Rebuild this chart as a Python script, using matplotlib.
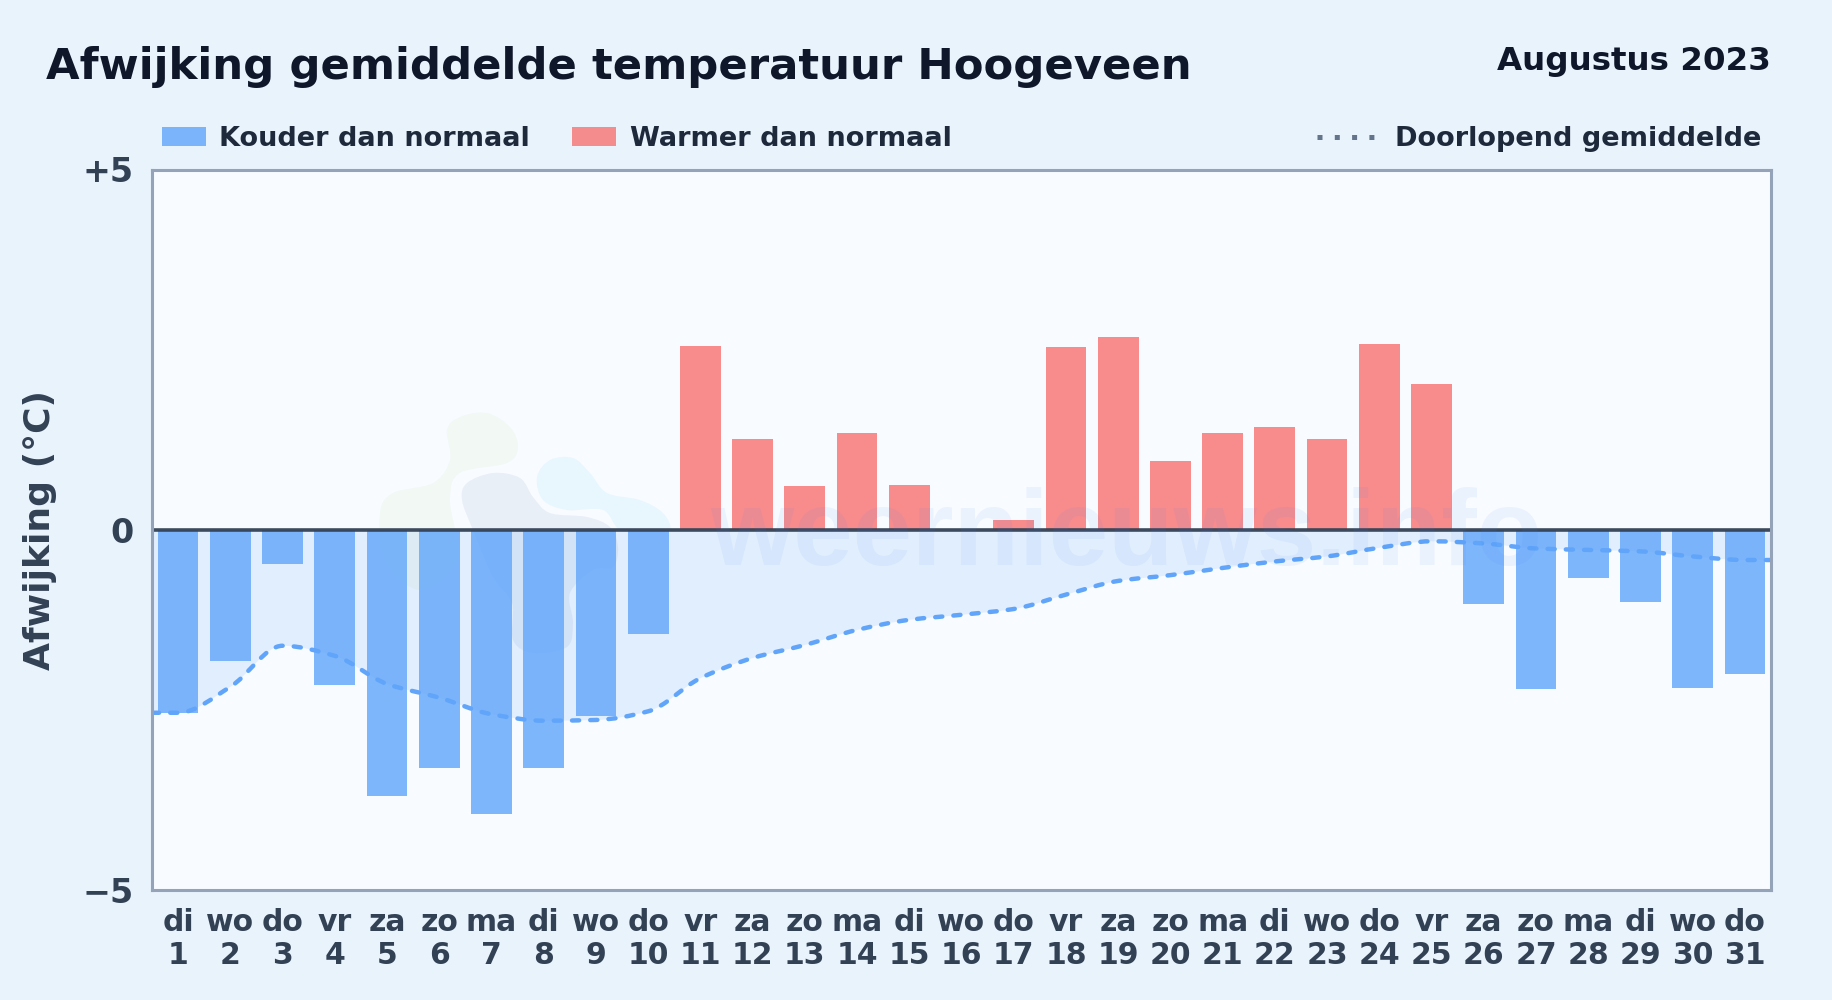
import numpy as np
import matplotlib
matplotlib.use("Agg")
import matplotlib.pyplot as plt
from matplotlib.lines import Line2D
from matplotlib.patches import PathPatch, Rectangle
from matplotlib.path import Path
from matplotlib.transforms import Affine2D

# =======================================================
# DATA
# =======================================================

WEEKDAYS = ["di", "wo", "do", "vr", "za", "zo", "ma", "di", "wo", "do", "vr",
            "za", "zo", "ma", "di", "wo", "do", "vr", "za", "zo", "ma", "di",
            "wo", "do", "vr", "za", "zo", "ma", "di", "wo", "do"]
DAYS = list(range(1, 32))
DEVIATION = [-2.54, -1.82, -0.48, -2.16, -3.70, -3.30, -3.95, -3.31, -2.58, -1.45,
             2.55, 1.26, 0.61, 1.34, 0.62, 0.0, 0.14, 2.54, 2.68, 0.96,
             1.34, 1.43, 1.26, 2.58, 2.02, -1.03, -2.21, -0.67, -1.00, -2.20, -2.00]
RUNNING_MEAN = [-2.54, -2.18, -1.61, -1.75, -2.14, -2.33, -2.56, -2.65, -2.64, -2.52,
                -2.06, -1.78, -1.60, -1.39, -1.25, -1.18, -1.10, -0.90, -0.71, -0.63,
                -0.53, -0.44, -0.37, -0.25, -0.16, -0.19, -0.26, -0.28, -0.30, -0.37, -0.42]
YTICKS = [-5, 0, 5]
YTICK_LABELS = ["\u22125", "0", "+5"]

# =======================================================
# CONFIG
# =======================================================

W, H = 1832, 1000
BG = "#e8f3fc"
PANEL = "#f8fbff"
BLUE = "#60a5fa"
RED = "#f87171"

# watermark blobs, in picture pixels
BLOB_GREEN = [(380, 513), (393, 493), (433, 483), (450, 460), (447, 430), (460, 417),
              (487, 413), (510, 427), (518, 447), (507, 463), (460, 473), (450, 500),
              (457, 560), (420, 590), (385, 560)]
BLOB_GRAY = [(462, 500), (467, 483), (493, 473), (520, 478), (533, 497), (550, 513),
             (587, 517), (610, 527), (618, 547), (613, 567), (593, 570), (570, 593),
             (573, 623), (567, 647), (533, 653), (513, 640), (512, 603), (493, 577), (473, 530)]
BLOB_SKY = [(537, 477), (550, 460), (573, 458), (590, 473), (607, 493), (640, 500),
            (663, 513), (670, 530), (650, 533), (620, 530), (603, 510), (567, 510), (543, 500)]


def fx(x):
    return x / W


def fy(y):
    return 1 - y / H


# =======================================================
# SMOOTH CURVES
# =======================================================

def monotone_path(x, y):
    """Bezier path through the points, with monotone tangents."""
    x = np.asarray(x, dtype=float)
    y = np.asarray(y, dtype=float)
    h = np.diff(x)
    s = np.diff(y) / h
    t = np.zeros(len(x))
    for i in range(1, len(x) - 1):
        if s[i - 1] * s[i] > 0:
            t[i] = 2 * s[i - 1] * s[i] / (s[i - 1] + s[i])
    t[0] = s[0]
    t[-1] = s[-1]

    verts = [(x[0], y[0])]
    codes = [Path.MOVETO]
    for i in range(len(h)):
        verts.append((x[i] + h[i] / 3, y[i] + t[i] * h[i] / 3))
        verts.append((x[i + 1] - h[i] / 3, y[i + 1] - t[i + 1] * h[i] / 3))
        verts.append((x[i + 1], y[i + 1]))
        codes += [Path.CURVE4] * 3
    return verts, codes


def blob_path(points):
    """Closed Catmull-Rom loop, used for the faint logo shapes."""
    pts = np.array(points, dtype=float)
    n = len(pts)
    verts = [tuple(pts[0])]
    codes = [Path.MOVETO]
    for i in range(n):
        p0, p1, p2, p3 = pts[i - 1], pts[i], pts[(i + 1) % n], pts[(i + 2) % n]
        verts += [tuple(p1 + (p2 - p0) / 6), tuple(p2 - (p3 - p1) / 6), tuple(p2)]
        codes += [Path.CURVE4] * 3
    return Path(verts, codes)


# =======================================================
# DRAWING
# =======================================================

def draw_watermark(ax, fig):
    to_fig = Affine2D().scale(1 / W, -1 / H).translate(0, 1) + fig.transFigure
    for pts, color, alpha in ((BLOB_GREEN, "#a3d65c", 0.07), (BLOB_GRAY, "#4f7ab0", 0.09), (BLOB_SKY, "#38bdf8", 0.08)):
        ax.add_patch(PathPatch(blob_path(pts), transform=to_fig, facecolor=color,
                               edgecolor="none", alpha=alpha, zorder=1))
    fig.text(fx(1126), fy(565), "weernieuws.info", ha="center", va="baseline",
             fontsize=77, fontweight="bold", family="Liberation Sans",
             color="#3b82f6", alpha=0.07, zorder=6)


def draw_legend(fig):
    for x0, x1, color in ((162, 206, BLUE), (572, 616, RED)):
        fig.add_artist(Rectangle((fx(x0), fy(146)), (x1 - x0) / W, 19 / H, transform=fig.transFigure,
                                 facecolor=color, edgecolor="none", alpha=0.8))
    style = dict(fontsize=19.5, fontweight="bold", color="#1e293b", va="baseline")
    fig.text(fx(219), fy(146), "Kouder dan normaal", **style)
    fig.text(fx(630), fy(146), "Warmer dan normaal", **style)
    fig.text(fx(1395), fy(146), "Doorlopend gemiddelde", **style)
    fig.add_artist(Line2D([fx(1317), fx(1375)], [fy(137), fy(137)], transform=fig.transFigure,
                          color="#64748b", lw=3.6, linestyle=(0, (1, 2.46)),
                          dash_capstyle="butt"))


def main():
    fig = plt.figure(figsize=(W / 100, H / 100), dpi=100, facecolor=BG)
    ax = fig.add_axes([fx(152), fy(890), (1771 - 152) / W, (890 - 169.5) / H], facecolor=PANEL)

    ax.set_xlim(0.5, 31.5)
    ax.set_ylim(-5, 5)

    draw_watermark(ax, fig)

    # running mean runs on flat to both panel edges
    line_x = [DAYS[0] - 0.5] + DAYS + [DAYS[-1] + 0.5]
    line_y = [RUNNING_MEAN[0]] + RUNNING_MEAN + [RUNNING_MEAN[-1]]
    verts, codes = monotone_path(line_x, line_y)

    fill_verts = verts + [(line_x[-1], 0), (line_x[0], 0), verts[0]]
    fill_codes = codes + [Path.LINETO, Path.LINETO, Path.CLOSEPOLY]
    ax.add_patch(PathPatch(Path(fill_verts, fill_codes), facecolor=BLUE, edgecolor="none",
                           alpha=0.15, zorder=2))

    colors = [BLUE if v < 0 else RED for v in DEVIATION]
    ax.bar(DAYS, DEVIATION, width=0.78, color=colors, alpha=0.8, linewidth=0, zorder=3)

    ax.add_patch(PathPatch(Path(verts, codes), facecolor="none", edgecolor=BLUE, lw=3.2,
                           linestyle=(0, (1.6, 2.5)), capstyle="round", zorder=4))
    ax.axhline(0, color="#334155", lw=2.6, alpha=0.95, zorder=5)

    for spine in ax.spines.values():
        spine.set_color("#94a3b8")
        spine.set_linewidth(2.2)
        spine.set_zorder(7)

    ax.set_xticks(DAYS)
    ax.set_xticklabels([f"{d}\n{n}" for d, n in zip(WEEKDAYS, DAYS)], linespacing=1.21)
    ax.set_yticks(YTICKS)
    ax.set_yticklabels(YTICK_LABELS)
    ax.tick_params(axis="x", length=0, pad=12.7, labelsize=21.5, labelcolor="#334155")
    ax.tick_params(axis="y", length=0, pad=13, labelsize=24, labelcolor="#334155")
    for lab in ax.get_xticklabels() + ax.get_yticklabels():
        lab.set_fontweight("bold")

    fig.text(fx(40), fy(530), "Afwijking (\u00b0C)", rotation=90, ha="center", va="center",
             fontsize=26, fontweight="bold", color="#334155")
    fig.text(fx(46), fy(79), "Afwijking gemiddelde temperatuur Hoogeveen", ha="left", va="baseline",
             fontsize=31.2, fontweight="bold", color="#0f172a")
    fig.text(fx(1771), fy(70), "Augustus 2023", ha="right", va="baseline",
             fontsize=23.4, fontweight="bold", color="#0f172a")

    draw_legend(fig)

    fig.savefig("out.png", dpi=100, facecolor=BG)
    plt.close(fig)


if __name__ == "__main__":
    main()
